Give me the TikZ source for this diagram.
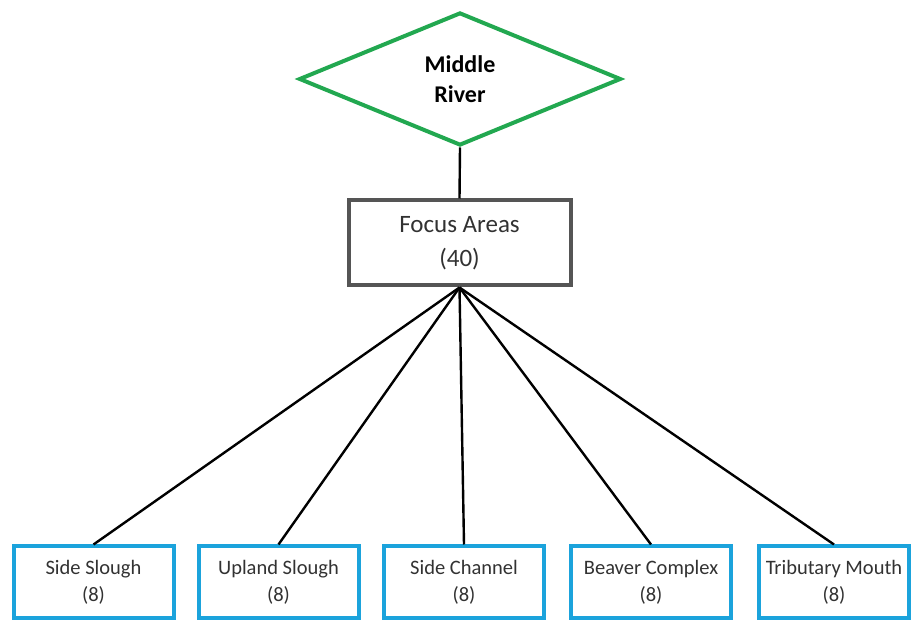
\documentclass[tikz,border=0pt]{standalone}
\usepackage{fontspec}
\setmainfont{Carlito}
\usetikzlibrary{shapes.geometric}
\definecolor{rivergreen}{RGB}{34,168,80}
\definecolor{areablue}{RGB}{27,163,220}
\definecolor{areagray}{RGB}{85,85,85}
\definecolor{labelgray}{RGB}{50,50,50}
\begin{document}
\begin{tikzpicture}[
      x=1pt,y=1pt,
      river/.style={diamond,draw=rivergreen,line width=4pt,minimum width=322pt,
        minimum height=133pt,inner sep=0pt,align=center,text=black,
        font=\fontsize{24}{30}\selectfont\bfseries},
      focus/.style={rectangle,draw=areagray,line width=4pt,minimum width=222pt,
        minimum height=85pt,align=center,text=labelgray,
        font=\fontsize{25}{34}\selectfont},
      habitat/.style={rectangle,draw=areablue,line width=4pt,minimum width=160pt,
        minimum height=72pt,align=center,text=labelgray,
        font=\fontsize{20.5}{27}\selectfont},
      link/.style={line width=2.4pt,black},
    ]
    \useasboundingbox (0,0) rectangle (911,621);
    \node[river] (river) at (460,542) {Middle\\River};
    \node[focus] (focus) at (459.5,378) {Focus Areas\\(40)};
    \node[habitat] (sideslough) at (93.5,38.5) {Side Slough\\(8)};
    \node[habitat] (upland) at (278.5,38.5) {Upland Slough\\(8)};
    \node[habitat] (sidechannel) at (464,38.5) {Side Channel\\(8)};
    \node[habitat] (beaver) at (651,38.5) {Beaver Complex\\(8)};
    \node[habitat,minimum width=150pt] (tributary) at (834,38.5) {Tributary Mouth\\(8)};
    \draw[link] (river.south) -- (focus.north);
    \foreach \area in {sideslough,upland,sidechannel,beaver,tributary}
      \draw[link] (focus.south) -- (\area.north);
\end{tikzpicture}
\end{document}
